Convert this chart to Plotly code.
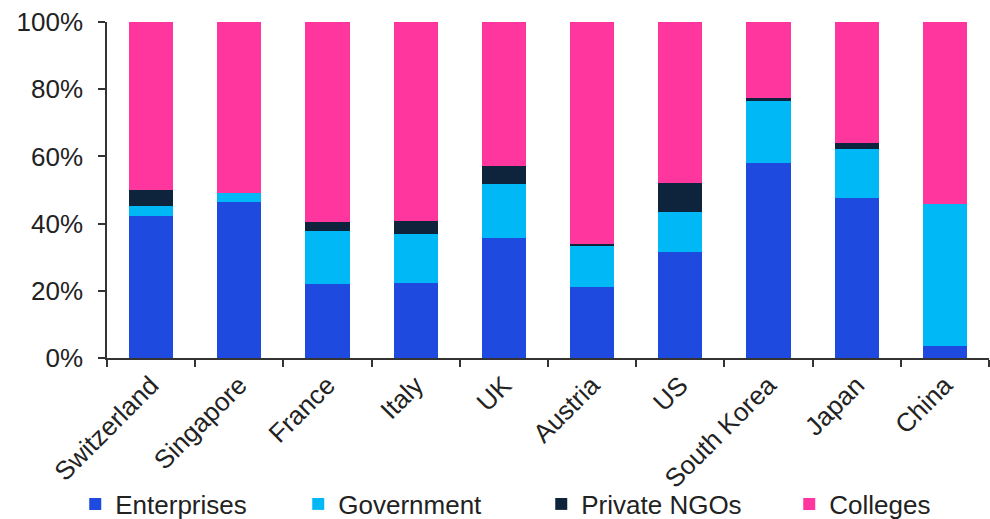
import plotly.graph_objects as go

countries = ["Switzerland", "Singapore", "France", "Italy", "UK", "Austria",
             "US", "South Korea", "Japan", "China"]
enterprises = [42.2, 46.5, 22.0, 22.3, 35.7, 21.2, 31.6, 58.1, 47.7, 3.6]
government = [3.1, 2.6, 15.8, 14.7, 16.2, 12.4, 11.8, 18.3, 14.4, 42.3]
private_ngos = [4.7, 0.0, 2.7, 3.7, 5.3, 0.4, 8.8, 1.1, 2.0, 0.0]
colleges = [round(100 - a - b - c, 1) for a, b, c in zip(enterprises, government, private_ngos)]

series = [
    ("Enterprises", enterprises, "#1f4ae0", 178),
    ("Government", government, "#00b8f5", 198),
    ("Private NGOs", private_ngos, "#0e233c", 203),
    ("Colleges", colleges, "#ff369d", 140),
]

FONT = "Liberation Sans, Arial, sans-serif"
TXT = "#222222"

fig = go.Figure()
for name, vals, color, lw in series:
    fig.add_trace(go.Bar(
        x=countries, y=vals, name=name,
        marker=dict(color=color, line=dict(width=0)),
        legendwidth=lw,
    ))

fig.update_layout(
    barmode="stack",
    bargap=0.5,
    width=990, height=519,
    margin=dict(l=107, r=1, t=22, b=161, autoexpand=False),
    paper_bgcolor="white", plot_bgcolor="white",
    font=dict(family=FONT, size=26, color=TXT),
    showlegend=True,
    legend=dict(orientation="h", x=-0.036, xanchor="left", y=-0.4345, yanchor="middle",
                font=dict(family=FONT, size=26, color=TXT), traceorder="normal",
                itemwidth=30, bgcolor="rgba(0,0,0,0)"),
    xaxis=dict(showline=True, linecolor="#333333", linewidth=1.5,
               ticks="outside", ticklen=7, tickcolor="#333333", tickwidth=1.5,
               tickson="boundaries", tickangle=-45, automargin=False,
               showgrid=False, zeroline=False,
               tickfont=dict(family=FONT, size=26, color=TXT)),
    yaxis=dict(range=[0, 100], dtick=20, ticksuffix="%", showline=True,
               linecolor="#333333", linewidth=1.5,
               ticks="outside", ticklen=7, tickcolor="#333333", tickwidth=1.5,
               showgrid=False, zeroline=False, automargin=False,
               ticklabelstandoff=10,
               tickfont=dict(family=FONT, size=26, color=TXT)),
)

fig.write_html("out.html")
